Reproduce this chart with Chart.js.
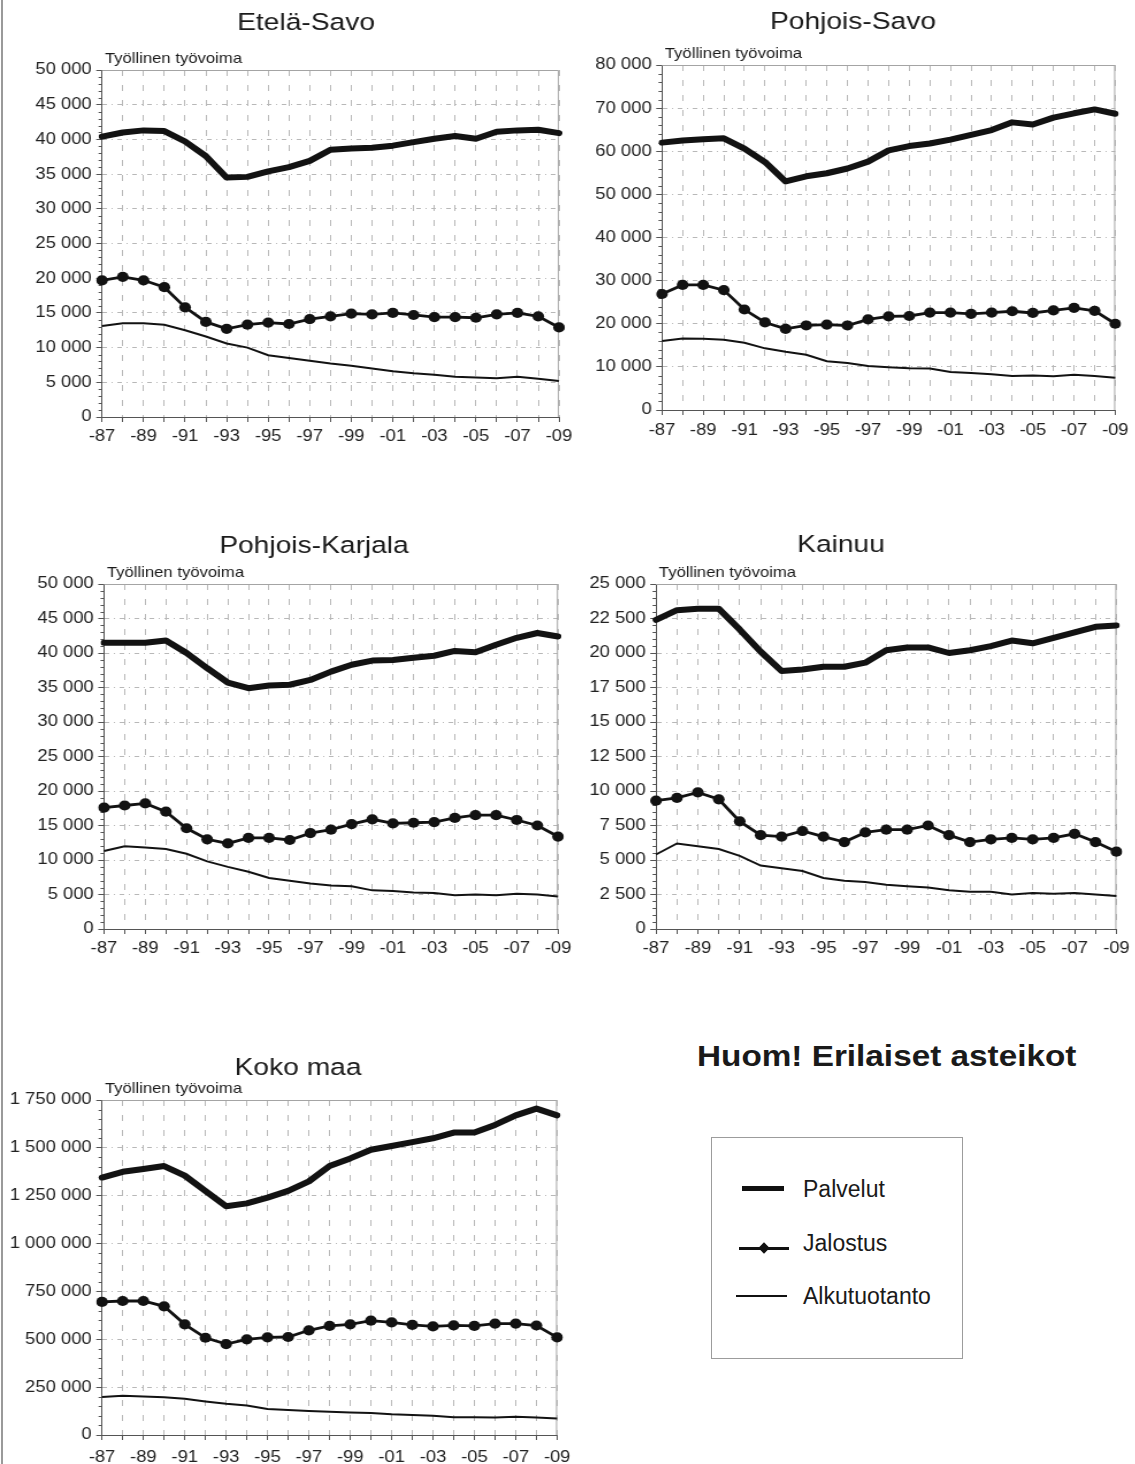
<!DOCTYPE html>
<html lang="fi">
<head>
<meta charset="utf-8">
<title>Työllinen työvoima toimialoittain</title>
<script src="https://cdn.jsdelivr.net/npm/chart.js@4.4.1/dist/chart.umd.min.js"></script>
<style>
  html, body { margin: 0; padding: 0; background: #fff; }
  #page {
    position: relative; width: 1135px; height: 1464px; overflow: hidden;
    font-family: "Liberation Sans", Arial, sans-serif; color: #1a1a1a;
  }
  #page::before {
    content: ''; position: absolute; left: 1px; top: 0; bottom: 0; width: 2px; background: #9a9a9a;
  }
  .panel { position: absolute; transform-origin: 0 0; }
  .panel canvas { display: block; }
  #note {
    position: absolute; left: 697px; top: 1041px; font-size: 30px; line-height: 30px;
    font-weight: bold; white-space: nowrap; transform: scaleX(1.11); transform-origin: 0 0;
  }
  #legend {
    position: absolute; left: 711px; top: 1137px; width: 252px; height: 222px;
    border: 1px solid #9c9c9c; box-sizing: border-box;
  }
  .leg-line { position: absolute; background: #111; }
  .leg-mark { position: absolute; width: 8px; height: 8px; background: #111; transform: rotate(45deg); }
  .leg-text { position: absolute; left: 91px; font-size: 23px; line-height: 23px; white-space: nowrap; }
</style>
</head>
<body>
<div id="page">
  <div class="panel" id="boxEtelaSavo"><canvas id="chartEtelaSavo"></canvas></div>
  <div class="panel" id="boxPohjoisSavo"><canvas id="chartPohjoisSavo"></canvas></div>
  <div class="panel" id="boxPohjoisKarjala"><canvas id="chartPohjoisKarjala"></canvas></div>
  <div class="panel" id="boxKainuu"><canvas id="chartKainuu"></canvas></div>
  <div class="panel" id="boxKokoMaa"><canvas id="chartKokoMaa"></canvas></div>

  <div id="note">Huom! Erilaiset asteikot</div>

  <div id="legend">
    <div class="leg-line" style="left:30px; top:48px; width:42px; height:5px;"></div>
    <div class="leg-text" style="top:40px;">Palvelut</div>
    <div class="leg-line" style="left:27px; top:109px; width:50px; height:3px;"></div>
    <div class="leg-mark" style="left:48px; top:106px;"></div>
    <div class="leg-text" style="top:94px;">Jalostus</div>
    <div class="leg-line" style="left:24px; top:157px; width:51px; height:2px;"></div>
    <div class="leg-text" style="top:147px;">Alkutuotanto</div>
  </div>
</div>

<script>
// ---- data: employed labour force by sector, 1987-2009 ----
const yearLabels = ['-87', '-88', '-89', '-90', '-91', '-92', '-93', '-94', '-95', '-96', '-97', '-98',
                    '-99', '-00', '-01', '-02', '-03', '-04', '-05', '-06', '-07', '-08', '-09'];
const seriesNames = ['Palvelut', 'Jalostus', 'Alkutuotanto'];
const unitLabel = 'Työllinen työvoima';

const etelaSavoPalvelut = [40400, 41000, 41300, 41200, 39700, 37600, 34500, 34600, 35400, 36000, 36900, 38500,
                           38700, 38800, 39100, 39600, 40100, 40500, 40100, 41100, 41300, 41400, 40900];
const etelaSavoJalostus = [19700, 20200, 19700, 18700, 15800, 13700, 12700, 13300, 13600, 13400, 14100, 14500,
                           14900, 14800, 15000, 14700, 14400, 14400, 14300, 14800, 15000, 14500, 12900];
const etelaSavoAlkutuotanto = [13100, 13500, 13500, 13300, 12500, 11600, 10600, 10000, 8900, 8500, 8100, 7700,
                               7400, 7000, 6600, 6300, 6100, 5800, 5700, 5600, 5800, 5500, 5200];

const pohjoisSavoPalvelut = [62000, 62500, 62800, 63000, 60600, 57500, 53000, 54200, 54900, 56000, 57600, 60200,
                             61200, 61800, 62700, 63800, 64900, 66700, 66200, 67800, 68800, 69700, 68700];
const pohjoisSavoJalostus = [26900, 29000, 29000, 27800, 23300, 20300, 18800, 19600, 19800, 19600, 21000, 21700,
                             21800, 22600, 22600, 22300, 22600, 22900, 22500, 23100, 23700, 23000, 20000];
const pohjoisSavoAlkutuotanto = [16000, 16600, 16500, 16300, 15600, 14300, 13500, 12800, 11300, 10900, 10200, 9900,
                                 9700, 9600, 8800, 8600, 8300, 7900, 8000, 7800, 8200, 7900, 7500];

const pohjoisKarjalaPalvelut = [41500, 41500, 41500, 41800, 40000, 37800, 35700, 34900, 35300, 35400, 36100, 37300,
                                38300, 38900, 39000, 39300, 39600, 40300, 40100, 41200, 42200, 42900, 42400];
const pohjoisKarjalaJalostus = [17600, 17900, 18200, 17000, 14600, 13000, 12400, 13200, 13200, 12900, 13900, 14400,
                                15200, 15900, 15300, 15400, 15500, 16100, 16500, 16500, 15800, 15000, 13400];
const pohjoisKarjalaAlkutuotanto = [11300, 12000, 11800, 11600, 10900, 9800, 9000, 8300, 7400, 7000, 6600, 6300,
                                    6200, 5600, 5500, 5300, 5200, 4900, 5000, 4900, 5100, 5000, 4700];

const kainuuPalvelut = [22400, 23100, 23200, 23200, 21700, 20100, 18700, 18800, 19000, 19000, 19300, 20200,
                        20400, 20400, 20000, 20200, 20500, 20900, 20700, 21100, 21500, 21900, 22000];
const kainuuJalostus = [9300, 9500, 9900, 9400, 7800, 6800, 6700, 7100, 6700, 6300, 7000, 7200,
                        7200, 7500, 6800, 6300, 6500, 6600, 6500, 6600, 6900, 6300, 5600];
const kainuuAlkutuotanto = [5400, 6200, 6000, 5800, 5300, 4600, 4400, 4200, 3700, 3500, 3400, 3200,
                            3100, 3000, 2800, 2700, 2700, 2500, 2600, 2550, 2600, 2500, 2400];

const kokoMaaPalvelut = [1345000, 1375000, 1390000, 1405000, 1355000, 1275000, 1195000, 1210000, 1240000, 1275000,
                         1325000, 1405000, 1445000, 1490000, 1510000, 1530000, 1550000, 1580000, 1580000, 1620000,
                         1670000, 1705000, 1670000];
const kokoMaaJalostus = [695000, 700000, 700000, 672000, 578000, 508000, 475000, 500000, 510000, 512000,
                         547000, 570000, 578000, 597000, 588000, 575000, 567000, 573000, 570000, 582000,
                         582000, 572000, 510000];
const kokoMaaAlkutuotanto = [198000, 205000, 201000, 197000, 189000, 175000, 163000, 154000, 136000, 130000,
                             125000, 121000, 118000, 115000, 108000, 104000, 100000, 93000, 93000, 91000,
                             95000, 91000, 86000];

// ---- layout ----
const STRETCH = 1.15;   // panels are drawn slightly widened
const FONT = '"Liberation Sans", Arial, sans-serif';
const INK = '#121212';

Chart.defaults.font.family = FONT;
Chart.defaults.color = '#222';

// box = [left, top, width, height] of the panel on the page, plot = [left, top, right, bottom]
const panels = [
  { id: 'EtelaSavo', title: 'Etelä-Savo', box: [0, 0, 580, 450], plot: [102, 70, 559, 417],
    titleAt: [306, 30], yMax: 50000, yStep: 5000, xPad: 5,
    values: [etelaSavoPalvelut, etelaSavoJalostus, etelaSavoAlkutuotanto] },
  { id: 'PohjoisSavo', title: 'Pohjois-Savo', box: [580, 0, 555, 450], plot: [662, 65, 1117, 410],
    titleAt: [853, 29], yMax: 80000, yStep: 10000, xPad: 6,
    values: [pohjoisSavoPalvelut, pohjoisSavoJalostus, pohjoisSavoAlkutuotanto] },
  { id: 'PohjoisKarjala', title: 'Pohjois-Karjala', box: [0, 520, 580, 450], plot: [104, 584, 558, 929],
    titleAt: [314, 553], yMax: 50000, yStep: 5000, xPad: 5,
    values: [pohjoisKarjalaPalvelut, pohjoisKarjalaJalostus, pohjoisKarjalaAlkutuotanto] },
  { id: 'Kainuu', title: 'Kainuu', box: [580, 520, 555, 450], plot: [656, 584, 1117, 929],
    titleAt: [841, 552], yMax: 25000, yStep: 2500, xPad: 5,
    values: [kainuuPalvelut, kainuuJalostus, kainuuAlkutuotanto] },
  { id: 'KokoMaa', title: 'Koko maa', box: [0, 1040, 580, 424], plot: [102, 1100, 561, 1435],
    titleAt: [298, 1075], yMax: 1750000, yStep: 250000, xPad: 8,
    values: [kokoMaaPalvelut, kokoMaaJalostus, kokoMaaAlkutuotanto] }
];

function formatThousands(v) {
  return String(v).replace(/\B(?=(\d{3})+(?!\d))/g, ' ');
}

// frame, minor ticks, title and unit label for one panel
const panelDecor = {
  id: 'panelDecor',
  beforeDatasetsDraw(chart, args, opts) {
    const { ctx, chartArea: a, scales: { y } } = chart;
    ctx.save();
    ctx.strokeStyle = '#a4a4a4';
    ctx.lineWidth = 1;
    ctx.beginPath();
    ctx.moveTo(a.left, a.top + 0.5);
    ctx.lineTo(a.right - 0.5, a.top + 0.5);
    ctx.lineTo(a.right - 0.5, a.bottom);
    ctx.stroke();

    const minor = opts.yStep / 5;
    const n = Math.round(y.max / minor);
    ctx.strokeStyle = '#555';
    ctx.beginPath();
    for (let i = 1; i < n; i++) {
      if (i % 5 === 0) continue;
      const py = Math.round(y.getPixelForValue(i * minor)) + 0.5;
      ctx.moveTo(a.left - 3, py);
      ctx.lineTo(a.left, py);
    }
    ctx.stroke();
    ctx.restore();
  },
  afterDraw(chart, args, opts) {
    const { ctx, chartArea: a } = chart;
    ctx.save();
    ctx.fillStyle = '#1a1a1a';
    ctx.textBaseline = 'alphabetic';
    ctx.textAlign = 'center';
    ctx.font = '24.5px ' + FONT;
    ctx.fillText(opts.title, opts.titleX, opts.titleY);
    ctx.textAlign = 'left';
    ctx.font = '14.5px ' + FONT;
    ctx.fillText(unitLabel, a.left + 2.5, a.top - 7);
    ctx.restore();
  }
};

function renderPanel(p) {
  const [bx, by, bw, bh] = p.box;
  const [pl, pt, pr, pb] = p.plot;
  const cw = Math.round(bw / STRETCH);

  const wrap = document.getElementById('box' + p.id);
  wrap.style.left = bx + 'px';
  wrap.style.top = by + 'px';
  wrap.style.transform = 'scaleX(' + STRETCH + ')';

  const canvas = document.getElementById('chart' + p.id);
  canvas.width = cw;
  canvas.height = bh;

  // axis boxes take all the room left of and below the plot so tick labels are not clipped
  const yAxisW = (pl - bx) / STRETCH - 2;
  const xAxisH = by + bh - pb;
  const padding = {
    left: 2,
    top: pt - by,
    right: cw - (pr - bx) / STRETCH,
    bottom: 0
  };

  const [palvelut, jalostus, alkutuotanto] = p.values;

  new Chart(canvas, {
    type: 'line',
    data: {
      labels: yearLabels,
      datasets: [
        { label: seriesNames[0], data: palvelut, borderColor: INK, borderWidth: 6,
          pointRadius: 0, borderJoinStyle: 'round', borderCapStyle: 'round', tension: 0 },
        { label: seriesNames[1], data: jalostus, borderColor: INK, borderWidth: 2.8,
          pointRadius: 5.1, pointBackgroundColor: INK, pointBorderWidth: 0, tension: 0 },
        { label: seriesNames[2], data: alkutuotanto, borderColor: INK, borderWidth: 2,
          pointRadius: 0, tension: 0 }
      ]
    },
    options: {
      responsive: false,
      animation: false,
      events: [],
      layout: { padding },
      plugins: {
        legend: { display: false },
        tooltip: { enabled: false },
        title: { display: false },
        panelDecor: {
          title: p.title,
          titleX: (p.titleAt[0] - bx) / STRETCH,
          titleY: p.titleAt[1] - by,
          yStep: p.yStep
        }
      },
      scales: {
        x: {
          type: 'category',
          offset: false,
          afterFit: (scale) => { scale.height = xAxisH; },
          grid: { color: '#b8b8b8', lineWidth: 1, tickLength: 5, tickColor: '#555' },
          border: { display: true, color: '#555', width: 1, dash: [6, 9] },
          ticks: {
            autoSkip: false, maxRotation: 0, minRotation: 0, padding: p.xPad,
            font: { size: 16 }, color: '#222',
            callback: (val, i) => (i % 2 === 0 ? yearLabels[i] : '')
          }
        },
        y: {
          min: 0,
          max: p.yMax,
          afterFit: (scale) => { scale.width = yAxisW; },
          grid: { color: '#b8b8b8', lineWidth: 1, tickLength: 5, tickColor: '#555' },
          border: { display: true, color: '#555', width: 1, dash: [4, 4, 1, 4] },
          ticks: {
            stepSize: p.yStep, padding: 4, font: { size: 16 }, color: '#222',
            callback: (v) => formatThousands(v)
          }
        }
      }
    },
    plugins: [panelDecor]
  });
}

panels.forEach(renderPanel);
</script>
</body>
</html>
